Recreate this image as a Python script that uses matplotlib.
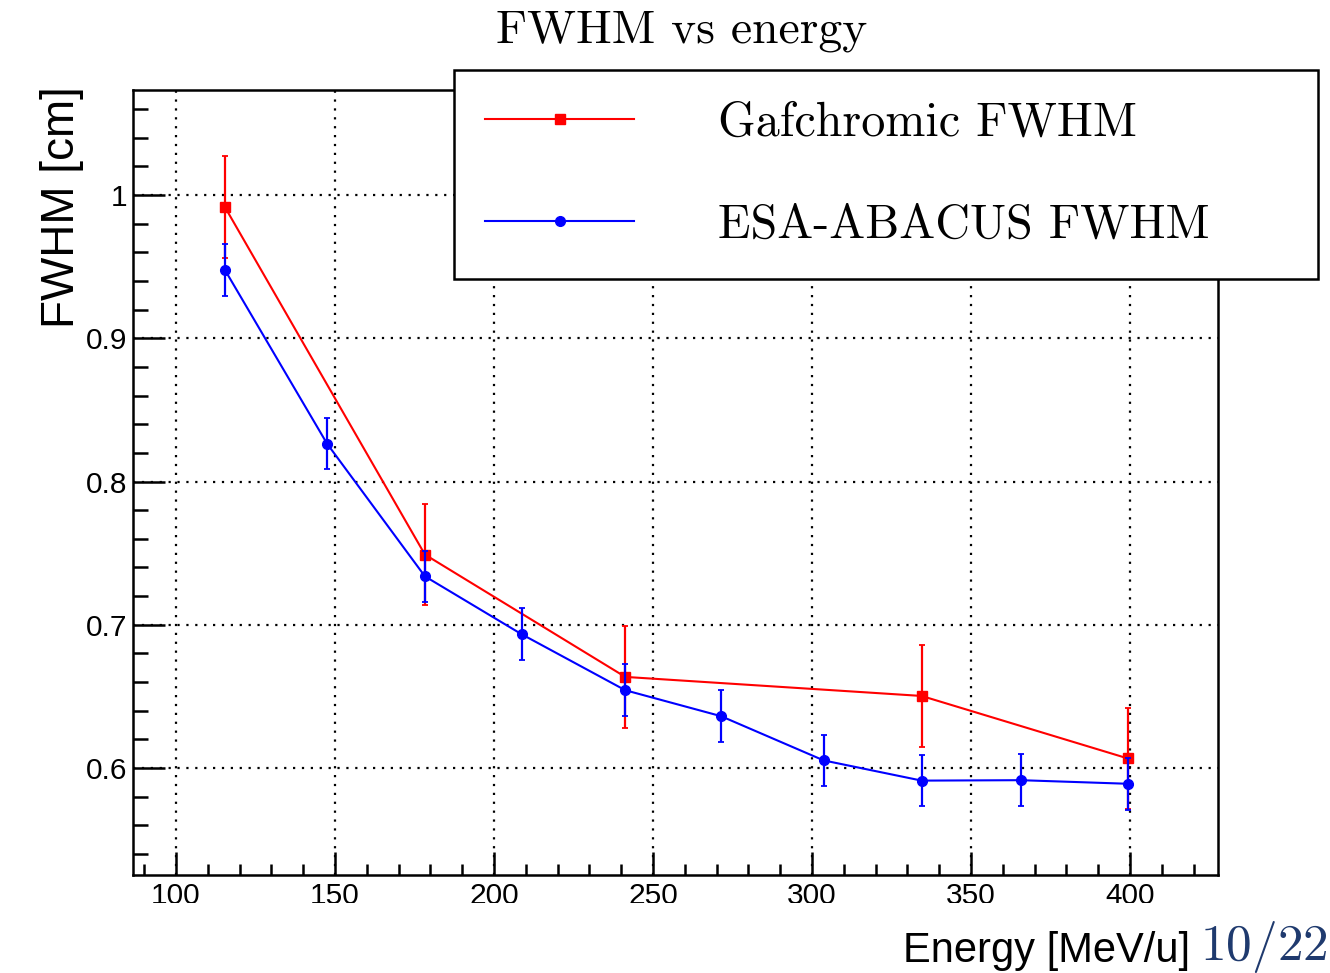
import numpy as np
import matplotlib
matplotlib.use("Agg")
import matplotlib.pyplot as plt
from matplotlib.patches import Rectangle
from matplotlib.ticker import MultipleLocator

plt.rcParams['font.family'] = ['Liberation Sans', 'DejaVu Sans']
plt.rcParams['mathtext.fontset'] = 'cm'

# data
gaf_energy = [115.4, 178.3, 241.3, 334.5, 399.3]
gaf_fwhm = [0.9916, 0.7490, 0.6636, 0.6503, 0.6067]
gaf_err = [0.0355, 0.0355, 0.0355, 0.0355, 0.0355]

esa_energy = [115.4, 147.5, 178.3, 208.7, 241.3, 271.4, 303.7, 334.5, 365.7, 399.3]
esa_fwhm = [0.9477, 0.8265, 0.7338, 0.6934, 0.6543, 0.6362, 0.6053, 0.5912, 0.5915, 0.5890]
esa_err = [0.018, 0.018, 0.018, 0.018, 0.018, 0.018, 0.018, 0.018, 0.018, 0.018]

fig = plt.figure(figsize=(13.3, 9.73), dpi=100)
ax = fig.add_axes([0.1, 0.1007, 0.8158, 0.8068])

gaf = ax.errorbar(gaf_energy, gaf_fwhm, yerr=gaf_err, color='#ff0000', marker='s', ms=6.5,
                  lw=1.5, elinewidth=1.6, capsize=2, capthick=1.3, zorder=3)
esa = ax.errorbar(esa_energy, esa_fwhm, yerr=esa_err, color='#0000ff', marker='o', ms=7,
                  lw=1.5, elinewidth=1.6, capsize=2, capthick=1.3, zorder=4)

ax.set_xlim(86.5, 427.7)
ax.set_ylim(0.5253, 1.0733)
ax.xaxis.set_major_locator(MultipleLocator(50))
ax.xaxis.set_minor_locator(MultipleLocator(10))
ax.yaxis.set_major_locator(MultipleLocator(0.1))
ax.yaxis.set_minor_locator(MultipleLocator(0.02))
ax.yaxis.set_major_formatter(plt.FuncFormatter(lambda v, p: ('%g' % round(v, 2))))

ax.grid(True, which='major', color='black', linestyle=(0, (1, 3)), linewidth=1.6)
ax.tick_params(axis='both', which='both', direction='in', top=False, right=False,
               width=1.8, labelsize=21.5, color='black')
ax.tick_params(axis='y', which='major', length=23, pad=4)
ax.tick_params(axis='y', which='minor', length=11)
ax.tick_params(axis='x', which='major', length=16.5, pad=5)
ax.tick_params(axis='x', which='minor', length=8)
for s in ax.spines.values():
    s.set_linewidth(1.8)

fig.text(0.0465, 0.787, 'FWHM [cm]', rotation=90, fontsize=33, ha='center', va='center')
fig.text(0.895, 0.0113, 'Energy [MeV/u]', fontsize=30, ha='right', va='baseline')
fig.text(0.5125, 0.956, 'FWHM vs energy', family='cmr10', fontsize=34.3, ha='center', va='baseline')
fig.text(0.998, 0.0135, r'$10/22$', fontsize=37, color='#1f3a6e', ha='right', va='baseline')

# tick labels are cut off in the original
fig.patches.append(Rectangle((0.05, 0.0493), 0.85, 0.0225, transform=fig.transFigure,
                             facecolor='white', edgecolor='none', zorder=10))

leg = fig.legend(handles=[gaf[0], esa[0]], labels=['Gafchromic FWHM', 'ESA-ABACUS FWHM'],
                 loc='upper left', bbox_to_anchor=(0.3414, 0.7163, 0.6496, 0.2117),
                 mode='expand', borderaxespad=0, fancybox=False, framealpha=1,
                 edgecolor='black', prop={'family': 'cmr10', 'size': 34.6},
                 handlelength=3.1, handletextpad=1.75, borderpad=0.65, labelspacing=1.2)
leg.get_frame().set_linewidth(1.8)
leg.set_zorder(20)

fig.savefig('out.png', dpi=100)
